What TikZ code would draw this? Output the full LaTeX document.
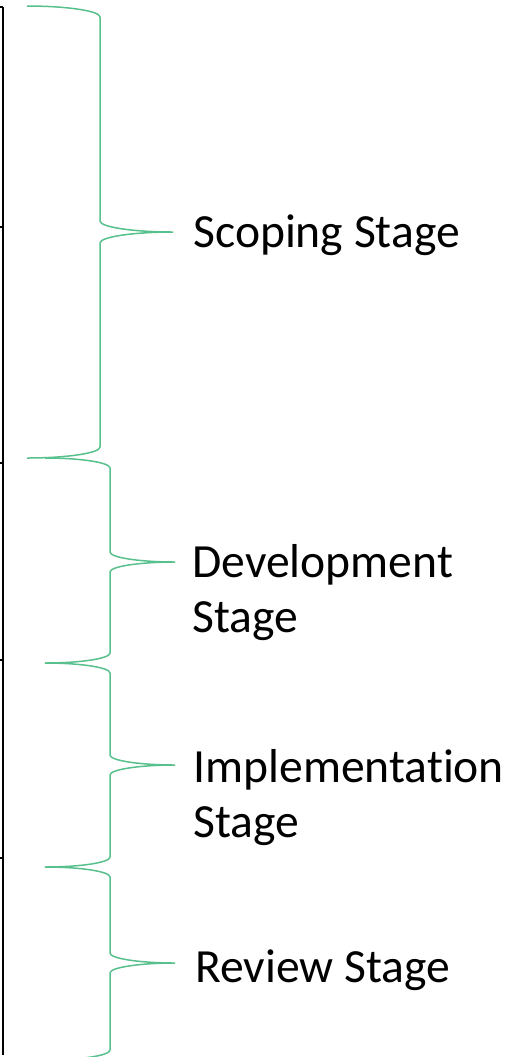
\documentclass[tikz,border=0pt]{standalone}
\usepackage{fontspec}
\setmainfont{Carlito}[Ligatures=NoCommon]
\definecolor{bracegreen}{RGB}{88, 192, 140}
\usetikzlibrary{positioning}

% right-pointing curly brace: left end x, spine x, tip x, top y, middle y, bottom y, arm height
\newcommand{\stagebrace}[7]{%
  \draw[bracegreen, line width=0.75pt]
    (#1,#4) .. controls ({#1+0.55*(#2-#1)},#4) and (#2,{#4+0.45*#7}) .. (#2,{#4+#7})
    -- (#2,{#5-#7})
    .. controls (#2,{#5-0.45*#7}) and ({#3-0.55*(#3-#2)},#5) .. (#3,#5)
    .. controls ({#3-0.55*(#3-#2)},#5) and (#2,{#5+0.45*#7}) .. (#2,{#5+#7})
    -- (#2,{#6-#7})
    .. controls (#2,{#6-0.45*#7}) and ({#1+0.55*(#2-#1)},#6) .. (#1,#6);
}

\begin{document}
\begin{tikzpicture}[
  x=0.5pt, y=-0.5pt,
  stagelabel/.style={anchor=base west, inner sep=0pt, align=left,
    font=\fontsize{23.8pt}{27.5pt}\selectfont}
]
  \useasboundingbox (0,0) rectangle (530,1057);

  % timeline on the left edge
  \draw[line width=1.4pt] (3,7) -- (3,1055);
  \foreach \y in {7,227,463,660,858}
    \draw[line width=1.4pt] (-3,\y) -- (3,\y);

  % braces
  \stagebrace{27}{100}{173}{6}{232}{458}{11}
  \stagebrace{45}{110}{175}{458}{562}{663}{10}
  \stagebrace{45}{110}{175}{663}{765}{867}{10}
  \stagebrace{45}{110}{175}{867}{963}{1060}{10}

  % stage names (base anchor sits on the last line)
  \node[stagelabel] (scoping) at (193,247) {Scoping Stage};
  \node[stagelabel] (development) at (192,632) {Development\\Stage};
  \node[stagelabel] (implementation) at (193,837) {Implementation\\Stage};
  \node[stagelabel] (review) at (195,982) {Review Stage};
\end{tikzpicture}
\end{document}
